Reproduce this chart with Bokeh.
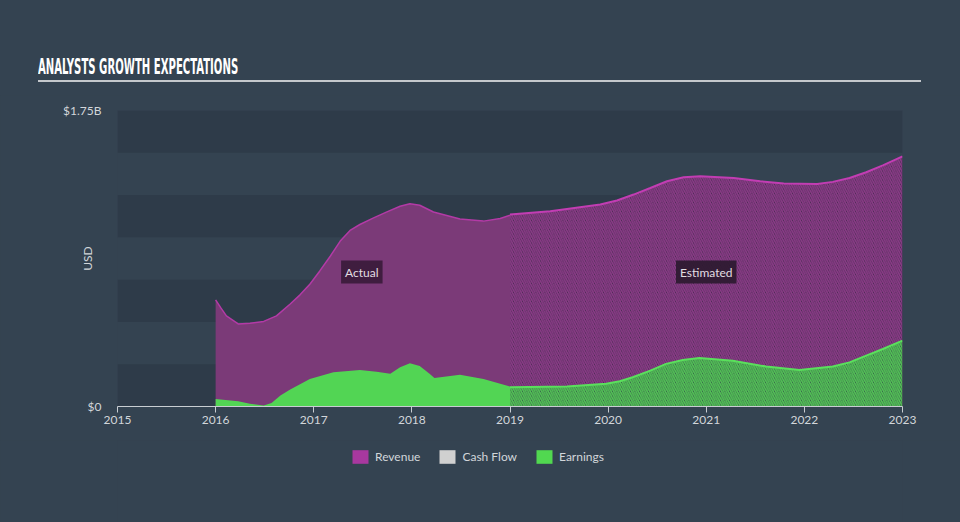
from bokeh.plotting import figure
from bokeh.models import Div, Label, Legend, LegendItem, FixedTicker, BoxAnnotation
from bokeh.layouts import column
from bokeh.embed import file_html
from bokeh.resources import INLINE

NAN = float("nan")

# ---- data (values in billions USD) ----
rev_act_x = [2016.0, 2016.05, 2016.11, 2016.23, 2016.35, 2016.49, 2016.62, 2016.76, 2016.86, 2016.96,
             2017.06, 2017.17, 2017.27, 2017.37, 2017.47, 2017.61, 2017.74, 2017.88, 2017.98, 2018.08,
             2018.22, 2018.49, 2018.73, 2018.9, 2019.0]
rev_act_y = [0.63, 0.586, 0.536, 0.488, 0.492, 0.503, 0.536, 0.606, 0.66, 0.723,
             0.80, 0.89, 0.978, 1.041, 1.076, 1.115, 1.149, 1.184, 1.199, 1.19,
             1.15, 1.109, 1.096, 1.112, 1.131]

earn_act_x = [2016.0, 2016.23, 2016.35, 2016.49, 2016.57, 2016.66, 2016.76, 2016.96, 2017.2, 2017.47,
              2017.64, 2017.78, 2017.88, 2017.98, 2018.08, 2018.18, 2018.23, 2018.49, 2018.73, 2019.0]
earn_act_y = [0.045, 0.031, 0.016, 0.006, 0.02, 0.065, 0.10, 0.163, 0.202, 0.216,
              0.206, 0.193, 0.232, 0.255, 0.24, 0.193, 0.169, 0.187, 0.163, 0.118]

rev_est_x = [2019.0, 2019.41, 2019.92, 2020.09, 2020.26, 2020.43, 2020.6, 2020.77, 2020.94, 2021.28,
             2021.55, 2021.79, 2022.13, 2022.29, 2022.46, 2022.63, 2022.8, 2023.0]
rev_est_y = [1.135, 1.155, 1.194, 1.218, 1.253, 1.292, 1.332, 1.355, 1.361, 1.351,
             1.332, 1.318, 1.316, 1.328, 1.351, 1.385, 1.426, 1.479]

earn_est_x = [2019.0, 2019.58, 2019.98, 2020.12, 2020.25, 2020.43, 2020.59, 2020.76, 2020.93, 2021.27,
              2021.61, 2021.95, 2022.29, 2022.46, 2022.63, 2022.8, 2023.0]
earn_est_y = [0.114, 0.118, 0.134, 0.149, 0.173, 0.212, 0.252, 0.275, 0.287, 0.271,
              0.236, 0.216, 0.236, 0.261, 0.301, 0.340, 0.389]

year_ticks = [2015, 2016, 2017, 2018, 2019, 2020, 2021, 2022, 2023]
y_ticks = [0, 1.75]
y_tick_labels = {0: "$0", 1.75: "$1.75B"}
legend_labels = ["Revenue", "Cash Flow", "Earnings"]

BG = "#344351"
BAND = "#2e3b49"
FONT = "Lato"
TXT = "#d2d6da"

p = figure(width=960, height=345, x_range=(2015, 2023), y_range=(0, 1.75),
           output_backend="svg", toolbar_location=None,
           min_border_left=117, min_border_right=58, min_border_top=15, min_border_bottom=34,
           background_fill_color=BG, border_fill_color=BG, outline_line_color=None)

p.xgrid.visible = False
p.ygrid.visible = False
for i in range(0, 7, 2):
    p.add_layout(BoxAnnotation(bottom=i * 0.25, top=(i + 1) * 0.25, fill_color=BAND,
                               fill_alpha=1, line_color=None, level="underlay"))

# revenue
p.varea(x=rev_act_x, y1=0, y2=rev_act_y, fill_color="#7b3a78")
p.varea(x=rev_est_x, y1=0, y2=rev_est_y, fill_color="#3e2c4a",
        hatch_pattern="\\", hatch_color="#8c3b88", hatch_weight=1.6, hatch_scale=4.5)
p.line(rev_act_x, rev_act_y, line_color="#b33aa6", line_width=1.5)
p.line(rev_est_x, rev_est_y, line_color="#c23db3", line_width=2)

# earnings
p.varea(x=earn_act_x, y1=0, y2=earn_act_y, fill_color="#52d554")
p.varea(x=earn_est_x, y1=0, y2=earn_est_y, fill_color="#34524a",
        hatch_pattern="\\", hatch_color="#54c456", hatch_weight=1.6, hatch_scale=4.5)
p.line(earn_est_x, earn_est_y, line_color="#5ae05c", line_width=2)

# axes
p.xaxis.ticker = FixedTicker(ticks=year_ticks)
p.xaxis.axis_line_color = "#c8cdd2"
p.xaxis.major_tick_line_color = "#c8cdd2"
p.xaxis.major_tick_out = 6
p.xaxis.major_tick_in = 0
p.xaxis.minor_tick_line_color = None
p.xaxis.major_label_text_color = TXT
p.xaxis.major_label_text_font = FONT
p.xaxis.major_label_text_font_size = "12px"
p.xaxis.major_label_standoff = 3

p.yaxis.ticker = FixedTicker(ticks=y_ticks)
p.yaxis.major_label_overrides = y_tick_labels
p.yaxis.axis_line_color = None
p.yaxis.major_tick_line_color = None
p.yaxis.minor_tick_line_color = None
p.yaxis.major_label_text_color = TXT
p.yaxis.major_label_text_font = FONT
p.yaxis.major_label_text_font_size = "12px"
p.yaxis.major_label_standoff = 10
p.yaxis.axis_label = "USD"
p.yaxis.axis_label_text_font = FONT
p.yaxis.axis_label_text_font_style = "normal"
p.yaxis.axis_label_text_font_size = "12px"
p.yaxis.axis_label_text_color = TXT
p.yaxis.axis_label_standoff = -35

# Actual / Estimated tags
for txt, xx, bg in [("Actual", 2017.49, "#3a1b3b"), ("Estimated", 2021.0, "#2d1a30")]:
    p.add_layout(Label(x=xx, y=0.795, text=txt, text_align="center", text_baseline="middle",
                       text_font=FONT, text_font_size="12px", text_color="#e2dde2",
                       background_fill_color=bg, background_fill_alpha=0.92, padding=4))

# legend figure (its frame is aligned with the main frame by the column layout)
lf = figure(width=960, height=82, x_range=(0, 1), y_range=(0, 1),
            output_backend="svg", toolbar_location=None, x_axis_type=None, y_axis_type=None,
            min_border=0, min_border_left=117, min_border_right=58, min_border_top=0, min_border_bottom=0,
            background_fill_color=BG, border_fill_color=BG, outline_line_color=None)
lf.xgrid.visible = False
lf.ygrid.visible = False
# legend-only proxy renderers (NaN data: nothing is drawn in the frame)
lg_rev = lf.quad(left=[NAN], right=[NAN], top=[NAN], bottom=[NAN], fill_color="#a8389f", line_color=None)
lg_cf = lf.quad(left=[NAN], right=[NAN], top=[NAN], bottom=[NAN], fill_color="#d0d0d0", line_color=None)
lg_earn = lf.quad(left=[NAN], right=[NAN], top=[NAN], bottom=[NAN], fill_color="#51d850", line_color=None)
legend = Legend(items=[LegendItem(label=legend_labels[0], renderers=[lg_rev]),
                       LegendItem(label=legend_labels[1], renderers=[lg_cf]),
                       LegendItem(label=legend_labels[2], renderers=[lg_earn])],
                orientation="horizontal", location=(233, 57),
                border_line_color=None, background_fill_alpha=0,
                label_text_color=TXT, label_text_font=FONT, label_text_font_size="12px",
                glyph_width=20, glyph_height=17, label_height=17, spacing=17, padding=0, margin=0,
                label_standoff=5)
lf.add_layout(legend, "center")

title_html = (
    '<div style="position:relative;width:960px;height:95px;">'
    '<div style="position:absolute;left:38px;top:52px;font-family:\'DejaVu Sans Condensed\',sans-serif;'
    'font-weight:bold;font-size:21px;color:#ffffff;transform:scaleX(0.535);transform-origin:left top;'
    'white-space:nowrap;">ANALYSTS GROWTH EXPECTATIONS</div>'
    '<div style="position:absolute;left:38px;top:80px;width:883px;height:2px;background:#c4c8cc;"></div>'
    '</div>'
)
title = Div(text=title_html, width=960, height=95, margin=0)

layout = column(title, p, lf, spacing=0, styles={"background-color": BG})

open("out.html", "w").write(file_html(layout, INLINE))
